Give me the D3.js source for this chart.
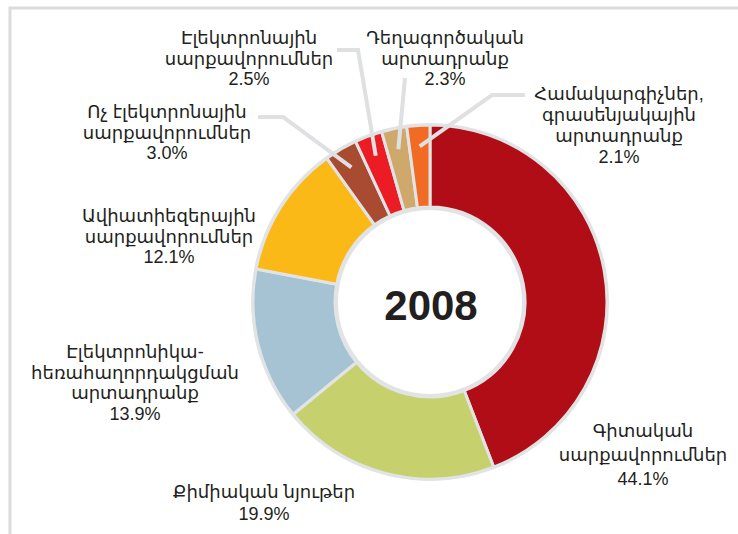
<!DOCTYPE html>
<html>
<head>
<meta charset="utf-8">
<script src="https://cdn.jsdelivr.net/npm/d3@7"></script>
<style>
  html, body { margin: 0; padding: 0; background: #fff; }
  svg { display: block; }
  text { font-family: "Liberation Sans", "DejaVu Sans", Arial, sans-serif; fill: #231f20; }
</style>
</head>
<body>
<svg id="chart" width="738" height="534"></svg>
<script>
// Product groups (clockwise from 12 o'clock) and their shares, %
const categories = [
  "Գիտական սարքավորումներ",
  "Քիմիական նյութեր",
  "Էլեկտրոնիկա-հեռահաղորդակցման արտադրանք",
  "Ավիատիեզերային սարքավորումներ",
  "Ոչ էլեկտրոնային սարքավորումներ",
  "Էլեկտրոնային սարքավորումներ",
  "Դեղագործական արտադրանք",
  "Համակարգիչներ, գրասենյակային արտադրանք"
];
const values = [44.1, 19.9, 13.9, 12.1, 3.0, 2.5, 2.3, 2.1];
const labelLines = [
  ["Գիտական", "սարքավորումներ"],
  ["Քիմիական նյութեր"],
  ["Էլեկտրոնիկա-", "հեռահաղորդակցման", "արտադրանք"],
  ["Ավիատիեզերային", "սարքավորումներ"],
  ["Ոչ էլեկտրոնային", "սարքավորումներ"],
  ["Էլեկտրոնային", "սարքավորումներ"],
  ["Դեղագործական", "արտադրանք"],
  ["Համակարգիչներ,", "գրասենյակային", "արտադրանք"]
];
const yearLabel = "2008";

const colors = ["#b00d17", "#c6d06c", "#a5c3d3", "#fbb918", "#a84b31", "#ec1c24", "#cfa96b", "#f26b25"];

// Label placement: centre x, first baseline, line step
const labelLayout = [
  { x: 643, y: 437, step: 24 },
  { x: 264, y: 498, step: 22 },
  { x: 135, y: 358, step: 20.5 },
  { x: 169, y: 222, step: 20.5 },
  { x: 167, y: 118, step: 20.5 },
  { x: 249, y: 44, step: 20.5 },
  { x: 445, y: 44, step: 20.5 },
  { x: 619, y: 100, step: 21 }
];
// Leader-line bends for the narrow slices (index -> points after the slice anchor)
const leaders = {
  4: [[283, 117], [258, 117]],
  5: [[358, 50], [337, 50]],
  6: [[405, 78]],
  7: [[492, 95], [525, 95]]
};

const svg = d3.select("#chart");
const W = 738, H = 534;
const cx = 430, cy = 302;
const rOuter = 177, rInner = 95;
const ringColor = "#e2e3e5";

// Frame
svg.append("path")
  .attr("d", `M10,${H} L10,8 L${W},8`)
  .attr("fill", "none")
  .attr("stroke", "#dcdcdc")
  .attr("stroke-width", 3);

const pie = d3.pie().sort(null).value(d => d)
  .startAngle(0).endAngle(2 * Math.PI);
const arcs = pie(values);

const arc = d3.arc().innerRadius(rInner).outerRadius(rOuter);
const anchorArc = d3.arc().innerRadius(156).outerRadius(156);

const g = svg.append("g").attr("transform", `translate(${cx},${cy})`);

// Grey halo round the ring
g.append("circle").attr("r", rOuter + 2).attr("fill", ringColor);
g.append("circle").attr("r", rInner - 2).attr("fill", ringColor);

g.selectAll("path.slice")
  .data(arcs)
  .join("path")
  .attr("class", "slice")
  .attr("d", arc)
  .attr("fill", (d, i) => colors[i])
  .attr("stroke", ringColor)
  .attr("stroke-width", 3)
  .attr("stroke-linejoin", "miter");

g.append("circle").attr("r", rInner - 3).attr("fill", "#fff");

// Leader lines
const line = d3.line();
Object.keys(leaders).forEach(k => {
  const i = +k;
  const [ax, ay] = anchorArc.centroid(arcs[i]);
  const pts = [[ax + cx, ay + cy]].concat(leaders[i]);
  svg.append("path")
    .attr("d", line(pts))
    .attr("fill", "none")
    .attr("stroke", "#dfe0e2")
    .attr("stroke-width", 4)
    .attr("stroke-linejoin", "miter");
});

// Slice labels
const fmt = d3.format(".1f");
categories.forEach((c, i) => {
  const L = labelLayout[i];
  const lines = labelLines[i].concat([fmt(values[i]) + "%"]);
  const t = svg.append("text")
    .attr("text-anchor", "middle")
    .attr("font-size", 18);
  lines.forEach((s, j) => {
    t.append("tspan")
      .attr("x", L.x)
      .attr("y", L.y + j * L.step)
      .attr("font-size", 18)
      .text(s);
  });
});

// Year in the centre
svg.append("text")
  .attr("x", cx + 1)
  .attr("y", 320)
  .attr("text-anchor", "middle")
  .attr("font-size", 42)
  .attr("font-weight", "bold")
  .text(yearLabel);
</script>
</body>
</html>
